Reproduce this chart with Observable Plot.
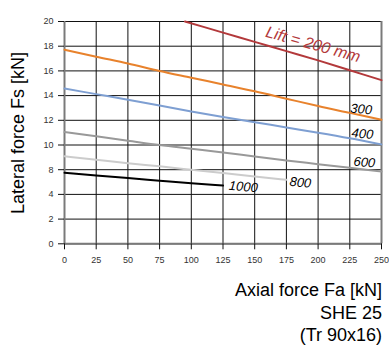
<!DOCTYPE html>
<html>
<head>
<meta charset="utf-8">
<script src="https://cdn.jsdelivr.net/npm/d3@7"></script>
<script src="https://cdn.jsdelivr.net/npm/@observablehq/plot@0.6"></script>
<style>
  html, body { margin: 0; padding: 0; background: #fff; }
  #wrap { width: 389px; font-family: "Liberation Sans", Arial, sans-serif; }
  #cap { text-align: right; padding-right: 7px; font-size: 18px; line-height: 22.5px; margin-top: 9px; color: #000; }
</style>
</head>
<body>
<div id="wrap">
  <div id="chart"></div>
  <div id="cap">Axial force Fa [kN]<br>SHE 25<br>(Tr 90x16)</div>
</div>
<script>
// Axis ticks (the reference's y axis has equally spaced labels with no "6")
const xTicks = [0, 25, 50, 75, 100, 125, 150, 175, 200, 225, 250];
const yTicks = [0, 2, 4, 8, 10, 12, 14, 16, 18, 20];

// Series: axial force Fa [kN] -> lateral force Fs [kN]
const lift200 = [[95, 20], [125, 19.1], [150, 18.35], [175, 17.6], [200, 16.85], [225, 16.05], [250, 15.25]];
const lift300 = [[0, 17.72], [25, 17.15], [50, 16.6], [75, 16.0], [100, 15.45], [125, 14.9], [150, 14.35], [175, 13.75], [200, 13.15], [225, 12.6], [250, 12.05]];
const lift400 = [[0, 14.57], [25, 14.12], [50, 13.67], [75, 13.2], [100, 12.72], [125, 12.27], [150, 11.85], [175, 11.42], [200, 11.0], [225, 10.55], [250, 10.05]];
const lift600 = [[0, 11.05], [25, 10.7], [50, 10.35], [75, 10.0], [100, 9.7], [125, 9.4], [150, 9.07], [175, 8.75], [200, 8.45], [225, 8.15], [250, 7.7]];
const lift800 = [[0, 9.08], [25, 8.81], [50, 8.53], [75, 8.27], [100, 8.0], [125, 7.46], [150, 6.9], [175, 6.36]];
const lift1000 = [[0, 7.51], [25, 7.07], [50, 6.64], [75, 6.23], [100, 5.82], [125, 5.43]];

const seriesNames = ["200", "300", "400", "600", "800", "1000"];
const seriesData = [lift200, lift300, lift400, lift600, lift800, lift1000];
const seriesColors = ["#b3393b", "#e8822c", "#7e9fd2", "#999999", "#cccccc", "#000000"];

// Curve labels: text, x, y (data units), rotation
const labelTexts = ["Lift = 200 mm", "300", "400", "600", "800", "1000"];
const labelX = [196, 234, 235, 236.5, 186, 141];
const labelY = [18.14, 12.9, 10.9, 8.6, 5.92, 5.23];
const labelRotate = [15.5, 5, 5, 5, 5, 5];
const labelSize = [16, 13, 13, 13, 13, 13];
const labelColor = ["#b3393b", "#000", "#000", "#000", "#000", "#000"];

const rows = seriesData.flatMap((s, i) => s.map(([x, y]) => ({series: seriesNames[i], x, y})));
const labels = labelTexts.map((t, i) => ({t, x: labelX[i], y: labelY[i], r: labelRotate[i], s: labelSize[i], c: labelColor[i]}));

const H = 270, MT = 21, MB = 26.7;
const yBottom = H - MB, yTop = MT;
const yRange = yTicks.map((_, i) => yBottom + (yTop - yBottom) * i / (yTicks.length - 1));

const chart = Plot.plot({
  width: 389,
  height: H,
  marginLeft: 64,
  marginRight: 8,
  marginTop: MT,
  marginBottom: MB,
  style: {fontFamily: "Liberation Sans, Arial, sans-serif", fontSize: "9px", background: "#fff"},
  x: {domain: [0, 250]},
  y: {type: "linear", domain: yTicks, range: yRange},
  color: {domain: seriesNames, range: seriesColors},
  marks: [
    Plot.gridX(xTicks, {stroke: "#111", strokeOpacity: 1, strokeWidth: 1}),
    Plot.gridY(yTicks, {stroke: "#111", strokeOpacity: 1, strokeWidth: 1}),
    Plot.ruleX([0, 250], {stroke: "#7a7a7a", strokeWidth: 2}),
    Plot.ruleY([0], {stroke: "#7a7a7a", strokeWidth: 2}),
    Plot.axisX({ticks: xTicks, tickSize: 6, tickPadding: 7, label: null, color: "#333", stroke: "#111"}),
    Plot.axisY({ticks: yTicks, tickSize: 6, tickPadding: 5, label: null, color: "#333", stroke: "#111", tickFormat: d => String(d)}),
    Plot.line(rows, {x: "x", y: "y", z: "series", stroke: "series", strokeWidth: 2, curve: "monotone-x"}),
    Plot.text(labels, {x: "x", y: "y", text: "t", rotate: "r", fontSize: "s", fill: "c", fontStyle: "italic", textAnchor: "middle"})
  ]
});
document.getElementById("chart").appendChild(chart);

// Y axis title
d3.select(chart).append("text")
  .attr("transform", "translate(24,133) rotate(-90)")
  .attr("text-anchor", "middle")
  .attr("font-size", 18)
  .attr("font-family", "Liberation Sans, Arial, sans-serif")
  .attr("fill", "#000")
  .text("Lateral force Fs [kN]");
</script>
</body>
</html>
